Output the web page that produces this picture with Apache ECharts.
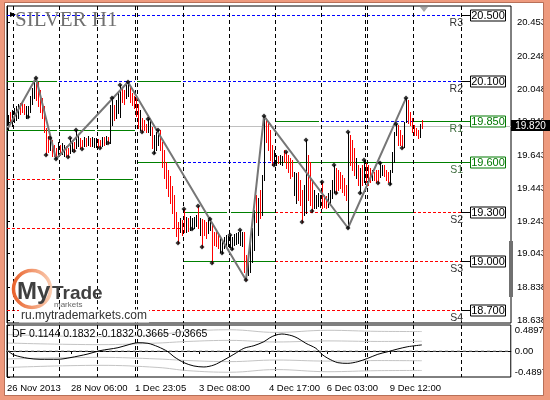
<!DOCTYPE html>
<html>
<head>
<meta charset="utf-8">
<script src="https://cdn.jsdelivr.net/npm/echarts@6/dist/echarts.min.js"></script>
<style>
  html, body { margin: 0; padding: 0; background: #fff; }
  #chart { width: 550px; height: 400px; }
</style>
</head>
<body>
<div id="chart"></div>
<script>
// H1 bars of SILVER, bar 0 = first bar at left edge
var barHigh = [
  19.889, 19.908, 19.920, 19.932, 19.944, 19.957, 19.963, 19.969, 19.957, 19.944,
  19.944, 20.006, 20.054, 20.103, 20.115, 20.091, 20.042, 19.993, 19.944, 19.810,
  19.761, 19.749, 19.737, 19.706, 19.688, 19.725, 19.706, 19.719, 19.706, 19.700,
  19.688, 19.749, 19.737, 19.725, 19.798, 19.761, 19.749, 19.737, 19.755, 19.749,
  19.761, 19.749, 19.755, 19.749, 19.749, 19.743, 19.737, 19.755, 19.755, 19.761,
  19.755, 19.951, 19.993, 19.951, 19.981, 20.024, 20.073, 20.054, 20.042, 20.085,
  20.091, 20.073, 20.024, 20.006, 19.993, 19.957, 19.920, 19.871, 19.859, 19.835,
  19.865, 19.859, 19.816, 19.767, 19.786, 19.798, 19.798, 19.725, 19.676, 19.603,
  19.554, 19.517, 19.456, 19.401, 19.297, 19.236, 19.261, 19.249, 19.316, 19.267,
  19.261, 19.273, 19.261, 19.267, 19.279, 19.334, 19.261, 19.255, 19.249, 19.236,
  19.249, 19.255, 19.218, 19.175, 19.175, 19.157, 19.139, 19.127, 19.145, 19.157,
  19.151, 19.157, 19.145, 19.163, 19.169, 19.175, 19.188, 19.175, 19.175, 19.035,
  19.035, 19.139, 19.200, 19.310, 19.401, 19.383, 19.432, 19.523, 19.883, 19.871,
  19.847, 19.798, 19.706, 19.676, 19.645, 19.639, 19.645, 19.639, 19.676, 19.664,
  19.645, 19.627, 19.615, 19.541, 19.535, 19.541, 19.493, 19.432, 19.462, 19.737,
  19.645, 19.603, 19.493, 19.432, 19.401, 19.413, 19.401, 19.480, 19.401, 19.395,
  19.413, 19.432, 19.493, 19.584, 19.566, 19.554, 19.541, 19.523, 19.505, 19.462,
  19.786, 19.767, 19.737, 19.688, 19.627, 19.584, 19.566, 19.584, 19.615, 19.596,
  19.584, 19.566, 19.554, 19.541, 19.554, 19.554, 19.596, 19.584, 19.584, 19.554,
  19.541, 19.554, 19.664, 19.786, 19.835, 19.828, 19.798, 19.767, 19.847, 19.993,
  19.981, 19.908, 19.871, 19.828, 19.810, 19.798, 19.835, 19.859
];
var barLow = [
  19.798, 19.847, 19.822, 19.847, 19.859, 19.871, 19.896, 19.908, 19.896, 19.871,
  19.877, 19.908, 19.957, 19.993, 19.981, 19.944, 19.908, 19.871, 19.786, 19.645,
  19.664, 19.676, 19.639, 19.639, 19.621, 19.639, 19.645, 19.651, 19.639, 19.639,
  19.633, 19.657, 19.670, 19.670, 19.688, 19.700, 19.688, 19.682, 19.700, 19.700,
  19.706, 19.700, 19.700, 19.694, 19.694, 19.694, 19.688, 19.700, 19.706, 19.712,
  19.719, 19.719, 19.828, 19.859, 19.871, 19.902, 19.877, 19.969, 19.957, 19.993,
  20.006, 19.969, 19.951, 19.932, 19.883, 19.810, 19.798, 19.786, 19.798, 19.786,
  19.786, 19.767, 19.688, 19.657, 19.676, 19.706, 19.676, 19.572, 19.505, 19.444,
  19.395, 19.352, 19.291, 19.200, 19.151, 19.108, 19.175, 19.157, 19.175, 19.175,
  19.181, 19.188, 19.194, 19.200, 19.212, 19.200, 19.157, 19.084, 19.157, 19.139,
  19.169, 19.188, 18.986, 19.096, 19.090, 19.078, 19.053, 19.047, 19.078, 19.084,
  19.090, 19.084, 19.072, 19.096, 19.102, 19.108, 19.096, 19.090, 18.931, 18.883,
  18.913, 18.931, 18.992, 19.066, 19.236, 19.157, 19.261, 19.279, 19.493, 19.725,
  19.676, 19.615, 19.584, 19.584, 19.584, 19.596, 19.590, 19.584, 19.603, 19.566,
  19.541, 19.505, 19.517, 19.401, 19.352, 19.371, 19.340, 19.236, 19.279, 19.291,
  19.371, 19.340, 19.303, 19.322, 19.322, 19.334, 19.328, 19.322, 19.328, 19.322,
  19.328, 19.340, 19.383, 19.419, 19.413, 19.432, 19.444, 19.419, 19.401, 19.371,
  19.200, 19.584, 19.554, 19.523, 19.505, 19.462, 19.413, 19.462, 19.480, 19.480,
  19.462, 19.480, 19.493, 19.493, 19.480, 19.474, 19.511, 19.523, 19.517, 19.493,
  19.480, 19.468, 19.541, 19.603, 19.767, 19.706, 19.706, 19.688, 19.694, 19.847,
  19.841, 19.828, 19.786, 19.767, 19.767, 19.749, 19.755, 19.810
];
// 1 = up bar (black), 0 = down bar (red)
var barUp = [
  1,0,1,1,1,1,0,0,0,1, 1,1,1,1,0,0,0,0,0,0,
  0,1,0,0,0,1,0,1,1,0, 0,1,1,0,1,1,0,0,1,0,
  1,0,1,1,1,0,0,1,0,1, 0,1,1,0,1,1,1,0,0,1,
  1,0,0,0,0,0,1,0,0,0, 1,1,0,1,1,1,0,0,0,0,
  0,0,0,0,0,0,1,0,0,1, 0,1,1,1,1,0,1,0,0,0,
  1,1,0,0,0,0,1,1,1,1, 1,1,1,1,1,1,1,1,0,0,
  1,1,1,1,0,1,0,1,1,0, 0,0,0,1,1,0,1,1,0,0,
  0,0,0,1,1,0,0,0,1,1, 0,0,0,1,1,1,1,0,0,0,
  1,1,1,1,0,0,0,0,0,0, 1,0,0,0,1,0,1,0,1,0,
  0,0,1,0,0,0,1,1,0,0, 0,1,1,1,1,0,0,0,1,1,
  0,0,0,0,0,0,1,0
];

// zigzag swing points
var zigzagBars = [0, 14, 24, 60, 119, 128, 170, 199];
var zigzagPrices = [19.81, 20.115, 19.621, 20.091, 18.883, 19.883, 19.200, 19.993];

// fractal marks
var fractalBars = [10, 14, 19, 21, 24, 30, 31, 33, 34, 37, 46, 50, 52, 56, 60, 67, 70, 73, 75, 85,
  88, 92, 95, 97, 101, 102, 107, 111, 112, 116, 119, 128, 133, 139, 147, 149, 152, 157, 163, 164,
  170, 170, 176, 178, 185, 186, 191, 194, 197, 199];
var fractalPrices = [19.877, 20.115, 19.645, 19.749, 19.621, 19.633, 19.749, 19.670, 19.798, 19.682,
  19.688, 19.719, 19.993, 20.073, 20.091, 19.786, 19.865, 19.657, 19.798, 19.108,
  19.316, 19.194, 19.334, 19.084, 19.255, 18.986, 19.047, 19.157, 19.072, 19.188,
  18.883, 19.883, 19.584, 19.664, 19.236, 19.737, 19.303, 19.480, 19.584, 19.413,
  19.200, 19.786, 19.413, 19.615, 19.474, 19.596, 19.468, 19.835, 19.688, 19.993];

// daily pivot level segments (g = green solid, b = blue dashed, r = red dashed)
var segPrice = [20.5, 20.1, 20.1, 20.1, 20.1, 19.85, 19.85, 19.85, 19.8, 19.8, 19.8, 19.6, 19.6, 19.6,
  19.5, 19.5, 19.5, 19.3, 19.3, 19.3, 19.3, 19.3, 19.2, 19.0, 19.0, 19.0, 18.7];
var segFrom = [0, 0, 26, 65, 88, 134, 157, 203, 0, 26, 45, 65, 88, 134,
  0, 26, 46, 88, 112, 134, 157.5, 203, 0, 88, 112, 134, 0];
var segTo = [227, 25, 64, 87, 227, 156, 203, 227, 25, 44, 64, 87, 134, 227,
  25, 44, 63, 110, 134, 157, 203, 227, 87, 111, 134, 227, 227];
var segKind = ['b', 'g', 'b', 'g', 'b', 'g', 'b', 'g', 'g', 'g', 'g', 'g', 'b', 'g',
  'r', 'g', 'g', 'g', 'g', 'r', 'g', 'r', 'r', 'g', 'g', 'r', 'r'];

// current levels with tags
var tagPrice = [20.5, 20.1, 19.85, 19.6, 19.3, 19.0, 18.7];
var tagName = ['R3', 'R2', 'R1', 'S1', 'S2', 'S3', 'S4'];
var tagGreen = [0, 0, 1, 1, 0, 0, 0];
var bidPrice = 19.82;

// day separators
var sepBars = [3, 26, 45, 64, 65, 88, 111, 134, 157, 179, 180, 203, 227];

// DF oscillator
var dfBars = [0, 3, 10, 16, 25, 31, 40, 46, 55, 61, 65, 70, 75, 80, 83, 88, 93, 98, 103, 108, 113,
  118, 123, 128, 131, 134, 137, 142, 145, 149, 154, 157, 160, 165, 170, 175, 180, 185, 190, 195, 200, 207];
var dfValues = [0.000, -0.075, -0.137, -0.156, -0.156, -0.126, -0.056, 0.006, 0.062, 0.126, 0.156,
  0.145, 0.081, -0.013, -0.107, -0.220, -0.282, -0.301, -0.264, -0.169, -0.062,
  0.051, 0.100, 0.175, 0.250, 0.301, 0.320, 0.288, 0.239, 0.145, 0.051,
  -0.062, -0.137, -0.220, -0.232, -0.201, -0.137, -0.062, -0.013, 0.038, 0.081, 0.1144];
var bandBars = [0, 46, 75, 90, 111, 134, 160, 185, 207];
var bandInner = [0.15, 0.12, 0.15, 0.18, 0.20, 0.17, 0.19, 0.18, 0.1832];
var bandOuter = [0.31, 0.27, 0.31, 0.37, 0.40, 0.35, 0.39, 0.37, 0.3665];

// axis ticks
var priceTicks = [20.453, 20.248, 20.048, 19.848, 19.643, 19.443, 19.243, 19.043, 18.838, 18.638];
var dfTicks = [-0.4897, 0, 0.4897];
var dateLabelPos = [0, 32, 64, 96, 131, 160, 191.5];
var dateLabels = ['26 Nov 2013', '28 Nov 06:00', '1 Dec 23:05', '3 Dec 08:00', '4 Dec 17:00', '6 Dec 03:00', '9 Dec 12:00'];

var kindColor = { g: '#008000', b: '#0000ff', r: '#ff0000' };
var FONT = '"Liberation Sans", Arial, sans-serif';

var chart = echarts.init(document.getElementById('chart'));

function renderBar(params, api) {
  var top = api.coord([api.value(0) + 0.5, api.value(1)]);
  var bot = api.coord([api.value(0) + 0.5, api.value(2)]);
  var y0 = Math.round(top[1]);
  return {
    type: 'rect',
    shape: { x: Math.floor(top[0]), y: y0, width: 1, height: Math.max(1, Math.round(bot[1]) - y0 + 1) },
    style: { fill: api.value(3) ? '#000000' : '#ff0000' }
  };
}

function renderLevel(params, api) {
  var a = api.coord([api.value(1), api.value(0)]);
  var b = api.coord([api.value(2), api.value(0)]);
  var y = Math.round(a[1]) + 0.5;
  var kind = segKind[params.dataIndex];
  return {
    type: 'line',
    shape: { x1: a[0], y1: y, x2: b[0], y2: y },
    style: { stroke: kindColor[kind], lineWidth: 1, lineDash: kind === 'g' ? null : [3, 2] }
  };
}

function renderSep(params, api) {
  var p = api.coord([api.value(0), api.value(1)]);
  var cs = params.coordSys;
  var x = Math.round(p[0]) + 0.5;
  return {
    type: 'line',
    shape: { x1: x, y1: cs.y, x2: x, y2: cs.y + cs.height },
    style: { stroke: '#000', lineWidth: 1, lineDash: [4, 3] }
  };
}

function renderTag(params, api) {
  var i = params.dataIndex;
  var p = api.coord([api.value(0), api.value(1)]);
  var y = Math.round(p[1]) + 0.5;
  var x0 = Math.round(p[0]);
  var col = tagGreen[i] ? '#007800' : '#000000';
  return {
    type: 'group',
    children: [
      { type: 'line', shape: { x1: x0, y1: y, x2: x0 + 9, y2: y }, style: { stroke: col, lineWidth: 1 } },
      { type: 'rect', shape: { x: x0 + 9.5, y: y - 5.5, width: 35, height: 11 }, style: { fill: '#fff', stroke: col, lineWidth: 1 } },
      { type: 'text', x: x0 + 27, y: y + 0.5, style: { text: tagPrice[i].toFixed(3), fill: col, font: '11px ' + FONT, align: 'center', verticalAlign: 'middle' } },
      { type: 'text', x: x0 + 2, y: y + 7.5, style: { text: tagName[i], fill: tagGreen[i] ? '#3d6b3d' : '#333333', font: '10.5px ' + FONT, align: 'right', verticalAlign: 'middle' } }
    ]
  };
}

function renderBidLine(params, api) {
  var p = api.coord([api.value(0), api.value(1)]);
  var cs = params.coordSys;
  var y = Math.round(p[1]) + 0.5;
  return { type: 'line', shape: { x1: cs.x, y1: y, x2: cs.x + cs.width, y2: y }, style: { stroke: '#c0c0c0', lineWidth: 1 } };
}

function renderBidLabel(params, api) {
  var p = api.coord([api.value(0), api.value(1)]);
  var y = Math.round(p[1]);
  return {
    type: 'group',
    children: [
      { type: 'rect', shape: { x: p[0], y: y - 6, width: 39, height: 11 }, style: { fill: '#000' } },
      { type: 'text', x: p[0] + 19.5, y: y, style: { text: api.value(1).toFixed(3), fill: '#fff', font: '10px ' + FONT, align: 'center', verticalAlign: 'middle' } }
    ]
  };
}

var lineSeries = function (bars, vals, sign, color, width, z, smooth) {
  return {
    type: 'line', xAxisIndex: 1, yAxisIndex: 1, z: z, symbol: 'none', smooth: smooth,
    lineStyle: { color: color, width: width },
    data: bars.map(function (b, i) { return [b + 0.5, sign * vals[i]]; })
  };
};

var option = {
  animation: false,
  backgroundColor: '#ffffff',
  grid: [
    { left: 7, right: 39, top: 6, height: 317, show: true, borderColor: '#000', borderWidth: 1, backgroundColor: '#fff' },
    { left: 7, right: 39, top: 325, height: 52, show: true, borderColor: '#000', borderWidth: 1, backgroundColor: '#fff' }
  ],
  xAxis: [
    { gridIndex: 0, type: 'value', min: 0, max: 252, show: false },
    {
      gridIndex: 1, type: 'value', min: 0, max: 252,
      splitLine: { show: false },
      axisLine: { lineStyle: { color: '#000' } },
      axisTick: { length: 3, customValues: dateLabelPos, lineStyle: { color: '#000' } },
      axisLabel: {
        customValues: dateLabelPos, align: 'left', margin: 6, color: '#000',
        fontFamily: FONT, fontSize: 9.5,
        formatter: function (v) { return dateLabels[dateLabelPos.indexOf(v)]; }
      }
    }
  ],
  yAxis: [
    {
      gridIndex: 0, type: 'value', position: 'right', min: 18.62, max: 20.555,
      splitLine: { show: false },
      axisLine: { show: true, lineStyle: { color: '#000' } },
      axisTick: { show: true, length: 3, customValues: priceTicks, lineStyle: { color: '#000' } },
      axisLabel: {
        customValues: priceTicks, margin: 6, color: '#000', fontFamily: FONT, fontSize: 9.5,
        formatter: function (v) { return v.toFixed(3); }
      }
    },
    {
      gridIndex: 1, type: 'value', position: 'right', min: -0.4897, max: 0.4897,
      splitLine: { show: false },
      axisLine: { show: true, lineStyle: { color: '#000' } },
      axisTick: { show: true, length: 3, customValues: dfTicks, lineStyle: { color: '#000' } },
      axisLabel: {
        customValues: dfTicks, margin: 4, color: '#000', fontFamily: FONT, fontSize: 9.5,
        verticalAlignMinLabel: 'bottom', verticalAlignMaxLabel: 'top',
        formatter: function (v) { return v === 0 ? '0.00' : v.toFixed(4); }
      }
    }
  ],
  graphic: [
    // salmon outer frame
    { type: 'rect', z: 1, shape: { x: 0, y: 0, width: 5, height: 400 }, style: { fill: '#ee9a7e' } },
    { type: 'rect', z: 1, shape: { x: 0, y: 0, width: 550, height: 3 }, style: { fill: '#ee9a7e' } },
    { type: 'rect', z: 1, shape: { x: 543, y: 0, width: 7, height: 400 }, style: { fill: '#ee9a7e' } },
    { type: 'rect', z: 1, shape: { x: 0, y: 395, width: 550, height: 5 }, style: { fill: '#ee9a7e' } },
    { type: 'rect', z: 1, shape: { x: 4.5, y: 2.5, width: 539, height: 393 }, style: { fill: null, stroke: '#b87058', lineWidth: 1 } },
    // title
    { type: 'text', z: 10, x: 15, y: 20, style: { text: 'SILVER H1', font: '21px "Liberation Serif", serif', fill: '#707070', verticalAlign: 'middle' } },
    { type: 'polygon', z: 10, shape: { points: [[10, 12], [16, 14.5], [10, 17]] }, style: { fill: '#000' } },
    { type: 'polygon', z: 10, shape: { points: [[420, 7], [428, 7], [424, 12]] }, style: { fill: '#a8a8a8' } },
    { type: 'rect', z: 10, shape: { x: 509, y: 241, width: 4, height: 56 }, style: { fill: '#707070' } },
    // oscillator caption
    { type: 'text', z: 10, x: 12, y: 334, style: { text: 'DF 0.1144 0.1832 -0.1832 0.3665 -0.3665', font: '10.5px ' + FONT, fill: '#000', verticalAlign: 'middle' } },
    // watermark logo
    {
      type: 'circle', z: 10, shape: { cx: 32, cy: 289, r: 18.5 },
      style: {
        fill: null, lineWidth: 3.5,
        stroke: new echarts.graphic.LinearGradient(0, 0, 1, 0, [
          { offset: 0, color: '#e85d25' }, { offset: 1, color: '#fbd2b8' }
        ])
      }
    },
    { type: 'text', z: 11, x: 17, y: 292, style: { text: 'My', font: 'bold 24px ' + FONT, fill: '#404040', verticalAlign: 'middle' } },
    { type: 'text', z: 11, x: 52, y: 293.5, style: { text: 'Trade', font: 'bold 19px ' + FONT, fill: '#404040', verticalAlign: 'middle' } },
    { type: 'text', z: 11, x: 54, y: 305, style: { text: 'markets', font: '8px ' + FONT, fill: '#666', verticalAlign: 'middle' } },
    { type: 'text', z: 11, x: 19, y: 316, style: { text: 'ru.mytrademarkets.com', font: '12px ' + FONT, fill: '#333', verticalAlign: 'middle', backgroundColor: '#fff', padding: [1, 2, 0, 2] } }
  ],
  series: [
    {
      type: 'custom', xAxisIndex: 0, yAxisIndex: 0, z: 1, renderItem: renderLevel,
      encode: { y: 0, x: [1, 2] },
      data: segPrice.map(function (p, i) { return [p, segFrom[i], segTo[i]]; })
    },
    {
      type: 'custom', xAxisIndex: 0, yAxisIndex: 0, z: 1, renderItem: renderBidLine,
      data: [[252, bidPrice]]
    },
    {
      type: 'custom', xAxisIndex: 0, yAxisIndex: 0, z: 1, renderItem: renderSep,
      data: sepBars.map(function (b) { return [b, 19.5]; })
    },
    {
      type: 'custom', xAxisIndex: 1, yAxisIndex: 1, z: 1, renderItem: renderSep,
      data: sepBars.map(function (b) { return [b, 0]; })
    },
    {
      type: 'custom', xAxisIndex: 0, yAxisIndex: 0, z: 2, renderItem: renderBar,
      encode: { x: 0, y: [1, 2] },
      data: barHigh.map(function (h, i) { return [i, h, barLow[i], barUp[i]]; })
    },
    {
      type: 'line', xAxisIndex: 0, yAxisIndex: 0, z: 3, symbol: 'none',
      lineStyle: { color: '#767676', width: 2 },
      data: zigzagBars.map(function (b, i) { return [b + 0.5, zigzagPrices[i]]; })
    },
    {
      type: 'scatter', xAxisIndex: 0, yAxisIndex: 0, z: 4, symbol: 'diamond', symbolSize: 5,
      itemStyle: { color: '#000' },
      data: fractalBars.map(function (b, i) { return [b + 0.5, fractalPrices[i]]; })
    },
    {
      type: 'custom', xAxisIndex: 0, yAxisIndex: 0, z: 6, renderItem: renderTag,
      data: tagPrice.map(function (p) { return [227, p]; })
    },
    {
      type: 'custom', xAxisIndex: 0, yAxisIndex: 0, z: 6, renderItem: renderBidLabel,
      data: [[252, bidPrice]]
    },
    // oscillator panel
    {
      type: 'line', xAxisIndex: 1, yAxisIndex: 1, z: 1, symbol: 'none',
      lineStyle: { color: '#a0a0a0', width: 1, type: [3, 3] },
      data: [[0, 0], [252, 0]]
    },
    lineSeries(bandBars, bandOuter, 1, '#c4c4c4', 1, 1, 0.4),
    lineSeries(bandBars, bandInner, 1, '#c4c4c4', 1, 1, 0.4),
    lineSeries(bandBars, bandInner, -1, '#c4c4c4', 1, 1, 0.4),
    lineSeries(bandBars, bandOuter, -1, '#c4c4c4', 1, 1, 0.4),
    lineSeries(dfBars, dfValues, 1, '#000000', 1, 3, 0.3)
  ]
};

chart.setOption(option);
</script>
</body>
</html>
